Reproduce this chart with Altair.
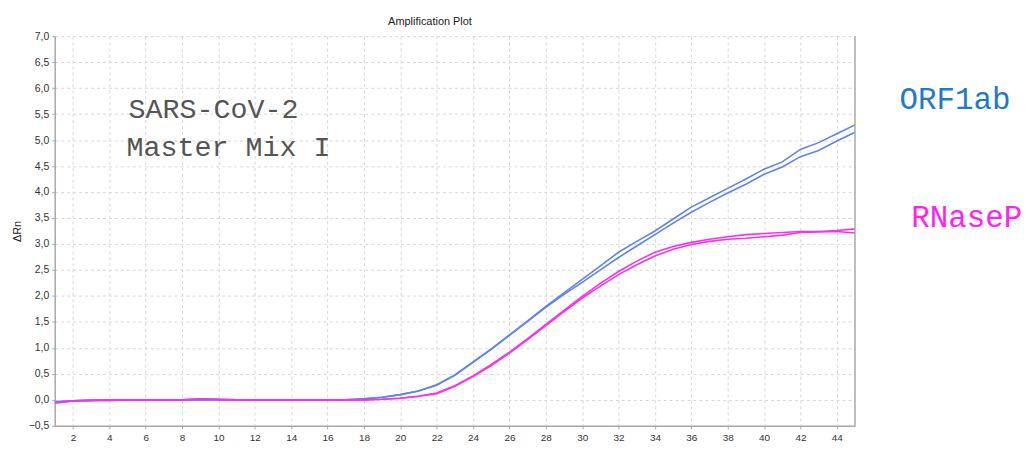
import altair as alt
import pandas as pd

cycles = list(range(1, 46))

orf1ab_a = [-0.04, -0.02, -0.01, 0.0, 0.0, 0.0, 0.0, 0.0, 0.0, 0.0,
            0.0, 0.0, 0.0, 0.0, 0.0, 0.0, 0.0, 0.02, 0.05, 0.10,
            0.17, 0.29, 0.48, 0.73, 0.98, 1.25, 1.52, 1.80, 2.06, 2.32,
            2.58, 2.84, 3.05, 3.25, 3.48, 3.71, 3.89, 4.07, 4.25, 4.44,
            4.58, 4.82, 4.95, 5.12, 5.29]
orf1ab_b = [-0.04, -0.02, -0.01, 0.0, 0.0, 0.0, 0.0, 0.0, 0.0, 0.0,
            0.0, 0.0, 0.0, 0.0, 0.0, 0.0, 0.0, 0.02, 0.05, 0.10,
            0.17, 0.28, 0.47, 0.72, 0.97, 1.24, 1.51, 1.78, 2.03, 2.26,
            2.50, 2.74, 2.96, 3.18, 3.40, 3.61, 3.80, 3.98, 4.15, 4.34,
            4.48, 4.68, 4.80, 4.98, 5.15]
rnasep_a = [-0.06, -0.02, -0.01, -0.01, 0.0, 0.0, 0.0, 0.0, 0.02, 0.01,
            0.0, 0.0, 0.0, 0.0, 0.0, 0.0, 0.0, 0.0, 0.01, 0.03,
            0.07, 0.13, 0.27, 0.46, 0.68, 0.92, 1.18, 1.45, 1.72, 1.99,
            2.24, 2.47, 2.67, 2.84, 2.95, 3.03, 3.09, 3.14, 3.18, 3.20,
            3.22, 3.24, 3.24, 3.26, 3.29]
rnasep_b = [-0.06, -0.02, -0.01, -0.01, 0.0, 0.0, 0.0, 0.0, 0.02, 0.01,
            0.0, 0.0, 0.0, 0.0, 0.0, 0.0, 0.0, 0.0, 0.01, 0.03,
            0.07, 0.12, 0.26, 0.45, 0.66, 0.90, 1.16, 1.43, 1.70, 1.96,
            2.19, 2.41, 2.60, 2.77, 2.90, 2.99, 3.05, 3.09, 3.11, 3.14,
            3.17, 3.22, 3.23, 3.24, 3.21]

x_ticks = list(range(2, 46, 2))
y_ticks = [v / 2 for v in range(-1, 15)]

rows = []
for name, target, vals in [("ORF1ab-1", "ORF1ab", orf1ab_a), ("ORF1ab-2", "ORF1ab", orf1ab_b),
                           ("RNaseP-1", "RNaseP", rnasep_a), ("RNaseP-2", "RNaseP", rnasep_b)]:
    for c, v in zip(cycles, vals):
        rows.append({"cycle": c, "drn": v, "well": name, "target": target})
df = pd.DataFrame(rows)

labels_df = pd.DataFrame([
    {"cycle": 5.05, "drn": 5.6, "text": "SARS-CoV-2", "color": "#555555", "size": 28.5},
    {"cycle": 4.95, "drn": 4.86, "text": "Master Mix I", "color": "#555555", "size": 28.5},
    {"cycle": 47.45, "drn": 5.77, "text": "ORF1ab", "color": "#1f7ac8", "size": 31},
    {"cycle": 48.1, "drn": 3.5, "text": "RNaseP", "color": "#ff22ee", "size": 31},
])

border_df = pd.DataFrame({"cycle": [45], "drn": [-0.5], "hi": [7.0]})

xscale = alt.Scale(domain=[1, 45], nice=False, zero=False)
yscale = alt.Scale(domain=[-0.5, 7.0], nice=False, zero=False)

x_axis = alt.Axis(values=x_ticks, labelFontSize=10, titleFontSize=11,
                  titleFontWeight="normal", labelColor="#333333", titleColor="#222222",
                  tickSize=3, tickColor="#a8a8a8", domainColor="#a8a8a8", domainWidth=1.5,
                  grid=True, gridColor="#d6d6d6", gridDash=[3, 3],
                  labelOverlap=False, labelFlush=False,
                  labelPadding=4, titlePadding=4, labelFont="Liberation Sans",
                  titleFont="Liberation Sans")
y_axis = alt.Axis(values=y_ticks, labelFontSize=10.5, titleFontSize=11,
                  titleFontWeight="normal", labelColor="#333333", titleColor="#222222",
                  labelExpr="replace(format(datum.value, '.1f'), '.', ',')",
                  labelOverlap=False, labelFlush=False,
                  tickSize=3, tickColor="#a8a8a8", domainColor="#a8a8a8", domainWidth=1.5,
                  grid=True, gridColor="#d6d6d6", gridDash=[3, 3],
                  labelPadding=3, titlePadding=6, labelFont="Liberation Sans",
                  titleFont="Liberation Sans")

X = alt.X("cycle:Q", scale=xscale, title="Cycle", axis=x_axis)
Y = alt.Y("drn:Q", scale=yscale, title="ΔRn", axis=y_axis)

lines = alt.Chart(df).mark_line(strokeWidth=1.6, clip=True).encode(
    x=X, y=Y,
    color=alt.Color("target:N", scale=alt.Scale(domain=["ORF1ab", "RNaseP"],
                                                range=["#5f84f0", "#f533ee"]), legend=None),
    detail="well:N",
)

right_border = alt.Chart(border_df).mark_rule(color="#a8a8a8", strokeWidth=1.5).encode(
    x=X, y=Y, y2="hi:Q",
)

texts = alt.Chart(labels_df).mark_text(align="left", baseline="middle",
                                      font="Liberation Mono", clip=False).encode(
    x=X, y=Y,
    text="text:N",
    color=alt.Color("color:N", scale=None),
    size=alt.Size("size:Q", scale=None),
)

chart = alt.layer(lines, right_border, texts).properties(
    width=805, height=392,
    title=alt.TitleParams("Amplification Plot", fontSize=11, fontWeight="normal",
                          font="Liberation Sans", color="#222222", anchor="middle",
                          dx=-25, offset=4),
    autosize=alt.AutoSizeParams(type="none"),
    padding={"left": 47, "top": 27, "right": 168, "bottom": 17},
).configure_view(stroke=None)

chart.save("out.html", embed_options={"renderer": "svg", "actions": False})
